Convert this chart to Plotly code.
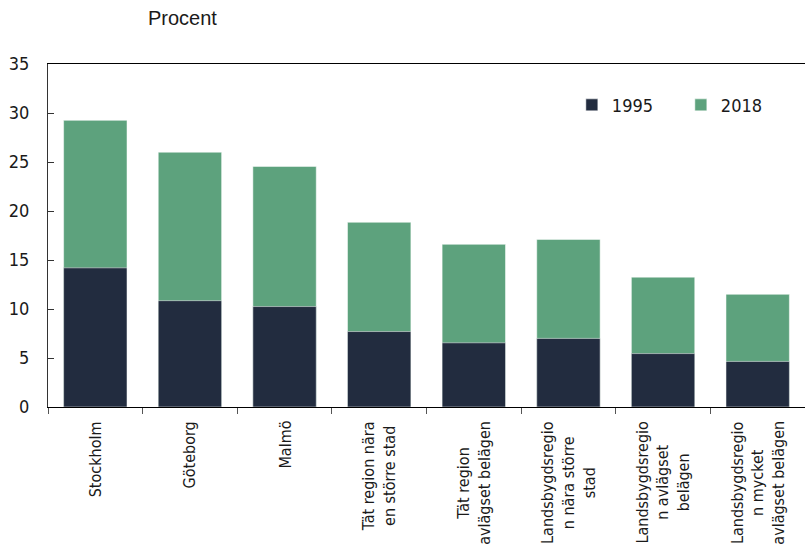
import plotly.graph_objects as go

categories = [
    "Stockholm",
    "Göteborg",
    "Malmö",
    "Tät region nära<br>en större stad",
    "Tät region<br>avlägset belägen",
    "Landsbygdsregio<br>n nära större<br>stad",
    "Landsbygdsregio<br>n avlägset<br>belägen",
    "Landsbygdsregio<br>n mycket<br>avlägset belägen",
]
values_1995 = [14.2, 10.85, 10.25, 7.7, 6.55, 7.0, 5.45, 4.65]
values_2018 = [29.25, 26.0, 24.55, 18.85, 16.6, 17.1, 13.25, 11.5]
y_ticks = [0, 5, 10, 15, 20, 25, 30, 35]

FONT = "Liberation Sans Narrow, Arial Narrow, DejaVu Sans Condensed, sans-serif"
DARK = "#222c3f"
GREEN = "#5da27d"

fig = go.Figure()
fig.add_trace(go.Bar(
    x=categories, y=values_2018, name="2018",
    marker=dict(color=GREEN, line=dict(color="rgba(255,255,255,0.5)", width=1)),
    width=0.67, legendrank=2,
))
fig.add_trace(go.Bar(
    x=categories, y=values_1995, name="1995",
    marker=dict(color=DARK, line=dict(color="rgba(255,255,255,0.5)", width=1)),
    width=0.67, legendrank=1,
))

for c in categories:
    fig.add_annotation(
        x=c, y=-0.035, xref="x", yref="paper",
        text=c, textangle=-90, showarrow=False,
        xanchor="center", yanchor="top", align="center",
        font=dict(family=FONT, size=16, color="#1a1a1a"),
    )

fig.add_annotation(
    x=0.178, y=1.134, xref="paper", yref="paper",
    text="Procent", showarrow=False, xanchor="center", yanchor="middle",
    font=dict(family="Liberation Sans, Arial, sans-serif", size=20, color="#1a1a1a"),
)

fig.update_layout(
    width=805, height=547,
    margin=dict(l=48, r=0, t=64, b=140, autoexpand=False),
    paper_bgcolor="white", plot_bgcolor="white",
    barmode="overlay",
    font=dict(family=FONT, size=18, color="#1a1a1a"),
    showlegend=True,
    legend=dict(
        orientation="h", x=0.692, y=0.88, xanchor="left", yanchor="middle",
        font=dict(family=FONT, size=18, color="#1a1a1a"),
        itemwidth=30, entrywidth=64, entrywidthmode="pixels",
        bgcolor="rgba(0,0,0,0)",
    ),
    xaxis=dict(
        type="category", showticklabels=False, automargin=False,
        showline=True, linecolor="#000000", linewidth=1.3, mirror=True,
        ticks="outside", ticklen=6, tickcolor="#555555", tickwidth=1,
        tickson="boundaries", showgrid=False, zeroline=False,
        range=[-0.5, 7.5],
    ),
    yaxis=dict(
        range=[0, 35], tickvals=y_ticks, automargin=False,
        showline=True, linecolor="#333333", linewidth=1.3,
        ticks="inside", ticklen=6, tickcolor="#333333",
        showgrid=False, zeroline=False,
        ticklabelstandoff=14,
        tickfont=dict(family=FONT, size=18, color="#1a1a1a"),
    ),
)

fig.write_html(
    "out.html",
    config={"displayModeBar": False},
    post_script="document.body.style.margin='0';document.body.style.padding='0';",
)
